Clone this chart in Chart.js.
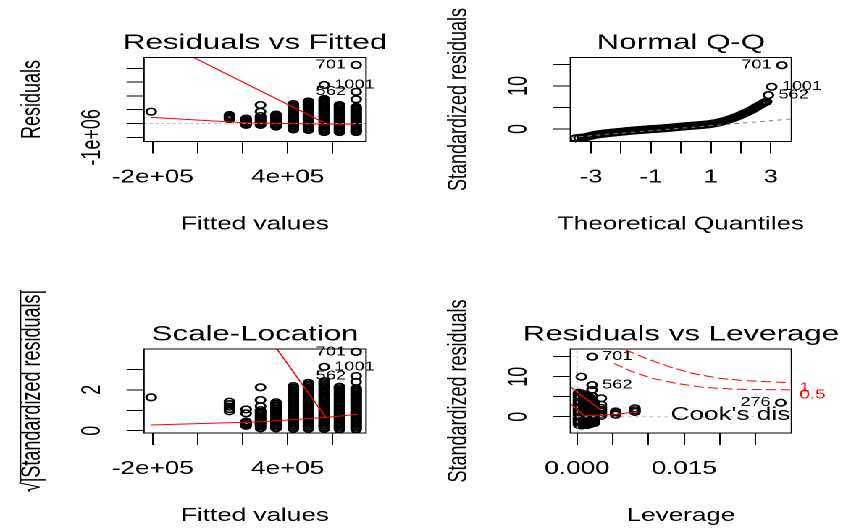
<!DOCTYPE html>
<html>
<head>
<meta charset="utf-8">
<title>lm diagnostics</title>
<script src="https://cdn.jsdelivr.net/npm/chart.js@4.4.1/dist/chart.umd.min.js"></script>
<style>
  html, body { margin: 0; padding: 0; background: #fff; overflow: hidden; }
  /* the reference is an R device stretched sideways, so the sheet is drawn narrow and widened */
  #sheet { position: absolute; left: 0; top: 0; width: 582px; height: 529px;
           transform-origin: 0 0; transform: scaleX(1.4485); }
  #sheet canvas { position: absolute; }
</style>
</head>
<body>
<div id="sheet">
  <canvas id="rvf" width="291" height="264" style="left:0;top:0"></canvas>
  <canvas id="qq" width="291" height="264" style="left:291px;top:0"></canvas>
  <canvas id="sl" width="291" height="265" style="left:0;top:264px"></canvas>
  <canvas id="rvl" width="291" height="265" style="left:291px;top:264px"></canvas>
</div>
<script>
// ---- Residuals vs Fitted ----
const fittedLevels = [-2.07e5, 1.41e5, 2.15e5, 2.79e5, 3.48e5, 4.25e5, 4.92e5, 5.62e5, 6.30e5, 7.04e5];
const residualsByLevel = [
  [0.86e6],
  [0.62e6, 0.52e6, 0.42e6, 0.32e6],
  [0.36e6, 0.28e6, 0.20e6, 0.12e6, 0.04e6, -0.04e6, -0.10e6],
  [1.34e6, 0.86e6, 0.54e6, 0.40e6, 0.30e6, 0.20e6, 0.10e6, 0.00e6, -0.10e6],
  [0.65e6, 0.55e6, 0.45e6, 0.35e6, 0.25e6, 0.15e6, 0.05e6, -0.05e6, -0.15e6, -0.22e6],
  [1.41e6, 1.30e6, 1.19e6, 1.08e6, 0.97e6, 0.86e6, 0.75e6, 0.64e6, 0.53e6, 0.42e6, 0.31e6, 0.20e6, 0.09e6,
   -0.02e6, -0.13e6, -0.24e6, -0.35e6, -0.43e6],
  [1.60e6, 1.49e6, 1.38e6, 1.27e6, 1.16e6, 1.05e6, 0.94e6, 0.83e6, 0.72e6, 0.61e6, 0.50e6, 0.39e6, 0.28e6,
   0.17e6, 0.06e6, -0.05e6, -0.16e6, -0.27e6, -0.38e6, -0.47e6],
  [2.79e6, 1.78e6, 1.67e6, 1.56e6, 1.45e6, 1.34e6, 1.23e6, 1.12e6, 1.01e6, 0.90e6, 0.79e6, 0.68e6, 0.57e6,
   0.46e6, 0.35e6, 0.24e6, 0.13e6, 0.02e6, -0.09e6, -0.20e6, -0.31e6, -0.42e6, -0.53e6, -0.62e6],
  [1.34e6, 1.23e6, 1.12e6, 1.01e6, 0.90e6, 0.79e6, 0.68e6, 0.57e6, 0.46e6, 0.35e6, 0.24e6, 0.13e6, 0.02e6,
   -0.09e6, -0.20e6, -0.31e6, -0.42e6, -0.53e6, -0.62e6],
  [4.24e6, 2.30e6, 1.75e6, 1.20e6, 1.09e6, 0.98e6, 0.87e6, 0.76e6, 0.65e6, 0.54e6, 0.43e6, 0.32e6, 0.21e6,
   0.10e6, -0.01e6, -0.12e6, -0.23e6, -0.34e6, -0.45e6, -0.56e6, -0.62e6]
];
const rvfSmoothX = [-2.07e5, 2.07e5, 5.62e5, 7.04e5];
const rvfSmoothY = [0.45e6, 0.06e6, -0.04e6, -0.04e6];
const rvfSpurX = [-2.15e5, 5.62e5];
const rvfSpurY = [6.38e6, 0.06e6];
const rvfIds = ['701', '1001', '562'];
const rvfIdX = [7.04e5, 5.62e5, 7.04e5];
const rvfIdY = [4.24e6, 2.79e6, 2.30e6];
const fittedRange = [-2.39e5, 7.48e5];
const fittedTicks = [-2e5, 0, 2e5, 4e5, 6e5];
const fittedTickLabels = ['-2e+05', '', '', '4e+05', ''];
const residRange = [-1.30e6, 4.78e6];
const residTicks = [-1e6, 0, 1e6, 2e6, 3e6, 4e6];
const residTickLabels = ['-1e+06', '', '', '', '', ''];

// ---- Normal Q-Q ----
const qqTheoretical = [
  -3.52, -3.40, -3.30, -3.20, -3.12, -3.05, -2.98, -2.91, -2.84, -2.77,
  -2.70, -2.63, -2.56, -2.49, -2.42, -2.35, -2.28, -2.21, -2.14, -2.07,
  -2.00, -1.93, -1.86, -1.79, -1.72, -1.65, -1.58, -1.51, -1.44, -1.37,
  -1.30, -1.23, -1.16, -1.09, -1.02, -0.95, -0.88, -0.81, -0.74, -0.67,
  -0.60, -0.53, -0.46, -0.39, -0.32, -0.25, -0.18, -0.11, -0.04, 0.03,
  0.10, 0.17, 0.24, 0.31, 0.38, 0.45, 0.52, 0.59, 0.66, 0.73,
  0.80, 0.87, 0.94, 1.01, 1.08, 1.15, 1.22, 1.29, 1.36, 1.43,
  1.50, 1.57, 1.64, 1.71, 1.78, 1.85, 1.92, 1.99, 2.06, 2.13,
  2.20, 2.27, 2.34, 2.41, 2.48, 2.55, 2.62, 2.69, 2.75, 2.81,
  2.86, 2.92, 3.03, 3.37];
const qqStdResid = [
  -2.15, -2.08, -2.00, -1.92, -1.80, -1.68, -1.55, -1.42, -1.33, -1.26,
  -1.19, -1.13, -1.07, -1.01, -0.95, -0.89, -0.84, -0.79, -0.74, -0.69,
  -0.64, -0.59, -0.54, -0.49, -0.44, -0.40, -0.36, -0.32, -0.28, -0.24,
  -0.20, -0.16, -0.12, -0.08, -0.05, -0.02, 0.01, 0.04, 0.07, 0.11,
  0.15, 0.19, 0.23, 0.27, 0.31, 0.36, 0.41, 0.46, 0.51, 0.56,
  0.60, 0.64, 0.68, 0.72, 0.76, 0.80, 0.84, 0.88, 0.92, 0.96,
  1.01, 1.06, 1.12, 1.19, 1.27, 1.36, 1.46, 1.57, 1.69, 1.82,
  1.96, 2.11, 2.27, 2.44, 2.62, 2.81, 3.01, 3.22, 3.44, 3.66,
  3.89, 4.12, 4.36, 4.60, 4.95, 5.20, 5.48, 5.75, 6.00, 6.20,
  6.35, 7.87, 9.80, 14.80];
const qqLineX = [-3.69, 3.68];
const qqLineY = [-1.95, 2.32];
const qqIds = ['701', '1001', '562'];
const qqIdX = [3.37, 3.03, 2.92];
const qqIdY = [14.80, 9.80, 7.87];
const qqRange = [-3.69, 3.69];
const qqTicks = [-3, -2, -1, 0, 1, 2, 3];
const qqTickLabels = ['-3', '', '-1', '', '1', '', '3'];
const stdRange = [-2.9, 16.6];
const stdTicks = [0, 5, 10, 15];
const stdTickLabels = ['0', '', '10', ''];

// ---- Scale-Location ----
const sqrtAbsByLevel = [
  [1.63],
  [1.42, 1.30, 1.18, 1.06, 0.95],
  [1.04, 0.85, 0.45, 0.38, 0.31, 0.24],
  [2.12, 1.50, 1.20, 1.00, 0.92, 0.84, 0.76, 0.68, 0.60, 0.52, 0.44, 0.36, 0.28, 0.20, 0.12],
  [1.39, 1.31, 1.23, 1.15, 1.07, 0.99, 0.91, 0.83, 0.75, 0.67, 0.59, 0.51, 0.43, 0.35, 0.27, 0.19, 0.12],
  [2.18, 2.10, 2.02, 1.94, 1.86, 1.78, 1.70, 1.62, 1.54, 1.46, 1.38, 1.30, 1.22, 1.14, 1.06, 0.98, 0.90,
   0.82, 0.74, 0.66, 0.58, 0.50, 0.42, 0.34, 0.26, 0.18, 0.10],
  [2.34, 2.26, 2.18, 2.10, 2.02, 1.94, 1.86, 1.78, 1.70, 1.62, 1.54, 1.46, 1.38, 1.30, 1.22, 1.14, 1.06,
   0.98, 0.90, 0.82, 0.74, 0.66, 0.58, 0.50, 0.42, 0.34, 0.26, 0.18, 0.10],
  [3.12, 2.42, 2.34, 2.26, 2.18, 2.10, 2.02, 1.94, 1.86, 1.78, 1.70, 1.62, 1.54, 1.46, 1.38, 1.30, 1.22,
   1.14, 1.06, 0.98, 0.90, 0.82, 0.74, 0.66, 0.58, 0.50, 0.42, 0.34, 0.26, 0.18, 0.10],
  [2.15, 2.07, 1.99, 1.91, 1.83, 1.75, 1.67, 1.59, 1.51, 1.43, 1.35, 1.27, 1.19, 1.11, 1.03, 0.95, 0.87,
   0.79, 0.71, 0.63, 0.55, 0.47, 0.39, 0.31, 0.23, 0.15, 0.07],
  [3.85, 2.67, 2.39, 2.07, 1.99, 1.91, 1.83, 1.75, 1.67, 1.59, 1.51, 1.43, 1.35, 1.27, 1.19, 1.11, 1.03,
   0.95, 0.87, 0.79, 0.71, 0.63, 0.55, 0.47, 0.39, 0.31, 0.23, 0.15, 0.07]
];
const slSmoothX = [-2.07e5, 2.88e5, 5.70e5, 7.10e5];
const slSmoothY = [0.28, 0.44, 0.65, 0.80];
const slSpurX = [3.18e5, 5.70e5];
const slSpurY = [4.51, 0.65];
const slIds = ['701', '1001', '562'];
const slIdX = [7.04e5, 5.62e5, 7.04e5];
const slIdY = [3.85, 3.12, 2.67];
const sqrtRange = [-0.11, 3.99];
const sqrtTicks = [0, 1, 2, 3];
const sqrtTickLabels = ['0', '', '2', ''];

// ---- Residuals vs Leverage ----
const leverageLevels = [0.0002, 0.0006, 0.0010, 0.0014, 0.0018, 0.0021, 0.0024, 0.0034, 0.0054, 0.0081, 0.0285];
const stdResidByLeverage = [
  [6.0, 5.6, 5.2, 4.8, 4.4, 4.0, 3.6, 3.2, 2.8, 2.4, 2.0, 1.6, 1.2, 0.8, 0.4, 0.0, -0.4, -0.8, -1.2, -1.6, -2.0],
  [10.0, 5.8, 5.4, 5.0, 4.6, 4.2, 3.8, 3.4, 3.0, 2.6, 2.2, 1.8, 1.4, 1.0, 0.6, 0.2, -0.2, -0.6, -1.0, -1.4, -1.8, -2.2],
  [5.6, 5.2, 4.8, 4.4, 4.0, 3.6, 3.2, 2.8, 2.4, 2.0, 1.6, 1.2, 0.8, 0.4, 0.0, -0.4, -0.8, -1.2, -1.6, -2.0],
  [5.4, 5.0, 4.6, 4.2, 3.8, 3.4, 3.0, 2.6, 2.2, 1.8, 1.4, 1.0, 0.6, 0.2, -0.2, -0.6, -1.0, -1.4, -1.8, -2.1],
  [4.8, 4.4, 4.0, 3.6, 3.2, 2.8, 2.4, 2.0, 1.6, 1.2, 0.8, 0.4, 0.0, -0.4, -0.8, -1.2, -1.6, -1.9],
  [15.0, 7.9, 6.7, 5.2],
  [3.6, 3.2, 2.8, 2.4, 2.0, 1.6, 1.2, 0.8, 0.4, 0.0, -0.4, -0.8, -1.2, -1.6],
  [4.6, 3.0, 2.2, 1.7, 1.2, 0.7, 0.2],
  [1.3, 0.9, 0.5],
  [2.1, 1.6, 1.2],
  [3.5]
];
const rvlSmoothAX = [-0.00187, 0.0033];
const rvlSmoothAY = [8.75, 1.7];
const rvlSmoothBX = [-0.00187, 0.00104, 0.0054, 0.0082];
const rvlSmoothBY = [4.67, 0.25, 0.55, 1.25];
const cookOneX = [0.0068, 0.0096, 0.0129, 0.0162, 0.0199, 0.0237, 0.0298];
const cookOneY = [16.7, 14.6, 12.5, 10.8, 9.6, 9.0, 8.5];
const cookHalfX = [0.0052, 0.0077, 0.0105, 0.0138, 0.0176, 0.0223, 0.0298];
const cookHalfY = [13.3, 11.25, 9.6, 8.35, 7.35, 6.85, 6.7];
const cookLevels = ['1', '0.5'];
const cookLegendAt = [0.0131, 0.43];
const rvlIds = ['701', '562', '276'];
const rvlIdX = [0.0021, 0.0021, 0.0285];
const rvlIdY = [15.0, 7.9, 3.5];
const leverageRange = [-0.00093, 0.03];
const leverageTicks = [0, 0.005, 0.010, 0.015, 0.020, 0.025];
const leverageTickLabels = ['0.000', '', '', '0.015', '', ''];
const rvlStdRange = [-4.08, 16.93];

// ---- drawing ----
const FONT = '"Liberation Sans", Arial, Helvetica, sans-serif';
const AXIS_PX = 18, MAIN_PX = 21.6, ID_PX = 12.5, COOK_PX = 13, TICK_LEN = 12;
Chart.defaults.font.family = FONT;
Chart.defaults.color = '#000';

const measureCtx = document.createElement('canvas').getContext('2d');
function textWidth(s, px) {
  measureCtx.font = px + 'px ' + FONT;
  return measureCtx.measureText(s).width;
}

const pts = (xs, ys) => xs.map((x, i) => ({ x, y: ys[i] }));
const columns = (levels, groups) => levels.flatMap((x, i) => groups[i].map(y => ({ x, y })));

function circles(data) {
  return { data, showLine: false, clip: false, pointStyle: 'circle', pointRadius: 3.3,
    pointBorderWidth: 1.55, pointBorderColor: '#000', pointBackgroundColor: 'rgba(0,0,0,0)' };
}
function path(data, color, dash, width) {
  return { data, showLine: true, pointRadius: 0, borderColor: color, borderWidth: width || 1,
    borderDash: dash || [], fill: false, tension: 0 };
}

const framePlugin = {
  id: 'frame',
  afterDraw(chart) {
    const { ctx, chartArea: a } = chart;
    ctx.save();
    ctx.strokeStyle = '#000';
    ctx.lineWidth = 1;
    ctx.strokeRect(a.left, a.top, a.right - a.left, a.bottom - a.top);
    ctx.restore();
  }
};

// main title and x label sit in R's margins and run wider than the box,
// so they are drawn here instead of through the title plugin (which squeezes them)
function marginText(main, xTitle) {
  return {
    id: 'marginText',
    afterDraw(chart) {
      const { ctx, chartArea: a } = chart;
      const cx = (a.left + a.right) / 2;
      ctx.save();
      ctx.fillStyle = '#000';
      ctx.textAlign = 'center';
      ctx.textBaseline = 'alphabetic';
      ctx.font = MAIN_PX + 'px ' + FONT;
      ctx.fillText(main, cx, a.top - 8.5);
      ctx.font = AXIS_PX + 'px ' + FONT;
      ctx.fillText(xTitle, cx, a.bottom + 88);
      ctx.restore();
    }
  };
}

// point id labels, left or right of their point as R puts them
function idLabels(texts, xs, ys, sides) {
  return {
    id: 'idLabels',
    afterDatasetsDraw(chart) {
      const { ctx, scales: { x, y } } = chart;
      ctx.save();
      ctx.font = ID_PX + 'px ' + FONT;
      ctx.fillStyle = '#000';
      ctx.textBaseline = 'middle';
      texts.forEach((t, i) => {
        const left = sides[i] === 'left';
        ctx.textAlign = left ? 'right' : 'left';
        ctx.fillText(t, x.getPixelForValue(xs[i]) + (left ? -7 : 7), y.getPixelForValue(ys[i]));
      });
      ctx.restore();
    }
  };
}

function diagnosticPanel(canvasId, p) {
  const cv = document.getElementById(canvasId);
  const W = cv.width, H = cv.height, b = p.box;
  const widest = Math.max(...p.yLabels.map(s => textWidth(s, AXIS_PX)));
  const axisFont = { size: AXIS_PX, lineHeight: 1.2 };
  const tickGrid = { drawOnChartArea: false, drawTicks: true, tickLength: TICK_LEN, color: '#000', lineWidth: 1 };
  return new Chart(cv, {
    type: 'scatter',
    data: { datasets: p.datasets },
    options: {
      responsive: false,
      animation: false,
      devicePixelRatio: 2,
      events: [],
      layout: { padding: { left: 0, top: b.t, right: W - b.r, bottom: 0 } },
      plugins: {
        legend: { display: false },
        tooltip: { enabled: false },
        title: { display: false }
      },
      scales: {
        x: {
          type: 'linear', min: p.xRange[0], max: p.xRange[1],
          afterBuildTicks: s => { s.ticks = p.xTicks.map(v => ({ value: v })); },
          afterFit: s => { s.height = H - b.b; },
          grid: tickGrid,
          border: { display: false },
          ticks: { autoSkip: false, maxRotation: 0, minRotation: 0, padding: 13.46, font: axisFont, color: '#000',
            callback: (v, i) => p.xLabels[i] },
          title: { display: false }
        },
        y: {
          type: 'linear', min: p.yRange[0], max: p.yRange[1],
          afterBuildTicks: s => { s.ticks = p.yTicks.map(v => ({ value: v })); },
          afterFit: s => { s.width = b.l; },
          grid: tickGrid,
          border: { display: false },
          ticks: { autoSkip: false, minRotation: 90, maxRotation: 90, crossAlign: 'center',
            padding: 23.24 - widest / 2, font: axisFont, color: '#000',
            callback: (v, i) => p.yLabels[i] },
          title: { display: true, text: p.yTitle, color: '#000', font: axisFont,
            padding: { top: b.l - 87.54, bottom: 0 } }
        }
      }
    },
    plugins: [framePlugin, marginText(p.title, p.xTitle)].concat(p.plugins || [])
  });
}

// 1. Residuals vs Fitted
diagnosticPanel('rvf', {
  box: { l: 99.4, t: 57.5, r: 252.7, b: 141.5 },
  title: 'Residuals vs Fitted', xTitle: 'Fitted values', yTitle: 'Residuals',
  xRange: fittedRange, xTicks: fittedTicks, xLabels: fittedTickLabels,
  yRange: residRange, yTicks: residTicks, yLabels: residTickLabels,
  datasets: [
    path(pts(rvfSmoothX, rvfSmoothY), '#ff0000'),
    path(pts(rvfSpurX, rvfSpurY), '#ff0000'),
    path(pts(fittedRange, [0, 0]), '#bebebe', [2, 2]),
    circles(columns(fittedLevels, residualsByLevel))
  ],
  plugins: [idLabels(rvfIds, rvfIdX, rvfIdY, ['left', 'right', 'left'])]
});

// 2. Normal Q-Q
diagnosticPanel('qq', {
  box: { l: 102.8, t: 57.5, r: 255.4, b: 141.5 },
  title: 'Normal Q-Q', xTitle: 'Theoretical Quantiles', yTitle: 'Standardized residuals',
  xRange: qqRange, xTicks: qqTicks, xLabels: qqTickLabels,
  yRange: stdRange, yTicks: stdTicks, yLabels: stdTickLabels,
  datasets: [
    path(pts(qqLineX, qqLineY), '#808080', [3, 3]),
    circles(pts(qqTheoretical, qqStdResid))
  ],
  plugins: [idLabels(qqIds, qqIdX, qqIdY, ['left', 'right', 'right'])]
});

// 3. Scale-Location
const SL_YTITLE = '\u221A|Standardized residuals|';
const radicalBar = {
  id: 'radicalBar',
  afterDraw(chart) {
    const { ctx, chartArea: a } = chart;
    const full = textWidth(SL_YTITLE, AXIS_PX), root = textWidth('\u221A', AXIS_PX);
    const mid = (a.top + a.bottom) / 2;
    const x = a.left - 76.74 - 8.5;
    ctx.save();
    ctx.strokeStyle = '#000';
    ctx.lineWidth = 1;
    ctx.beginPath();
    ctx.moveTo(x, mid + full / 2 - root);
    ctx.lineTo(x, mid - full / 2);
    ctx.stroke();
    ctx.restore();
  }
};
diagnosticPanel('sl', {
  box: { l: 99.4, t: 85, r: 252.7, b: 169 },
  title: 'Scale-Location', xTitle: 'Fitted values', yTitle: SL_YTITLE,
  xRange: fittedRange, xTicks: fittedTicks, xLabels: fittedTickLabels,
  yRange: sqrtRange, yTicks: sqrtTicks, yLabels: sqrtTickLabels,
  datasets: [
    path(pts(slSmoothX, slSmoothY), '#ff0000'),
    path(pts(slSpurX, slSpurY), '#ff0000'),
    circles(columns(fittedLevels, sqrtAbsByLevel))
  ],
  plugins: [radicalBar, idLabels(slIds, slIdX, slIdY, ['left', 'right', 'left'])]
});

// 4. Residuals vs Leverage
const cookNotes = {
  id: 'cookNotes',
  afterDatasetsDraw(chart) {
    const { ctx, chartArea: a, scales: { x, y } } = chart;
    const ends = [cookOneY[cookOneY.length - 1], cookHalfY[cookHalfY.length - 1]];
    ctx.save();
    ctx.fillStyle = '#ff0000';
    ctx.font = COOK_PX + 'px ' + FONT;
    ctx.textAlign = 'left';
    ctx.textBaseline = 'middle';
    cookLevels.forEach((t, i) => ctx.fillText(t, a.right + 5.5, y.getPixelForValue(ends[i]) + 5));
    ctx.beginPath();
    ctx.rect(a.left, a.top, a.right - a.left, a.bottom - a.top);
    ctx.clip();
    ctx.fillStyle = '#000';
    ctx.font = AXIS_PX + 'px ' + FONT;
    ctx.fillText("Cook's distance", x.getPixelForValue(cookLegendAt[0]), y.getPixelForValue(cookLegendAt[1]));
    ctx.restore();
  }
};
diagnosticPanel('rvl', {
  box: { l: 102.8, t: 85, r: 255.4, b: 169 },
  title: 'Residuals vs Leverage', xTitle: 'Leverage', yTitle: 'Standardized residuals',
  xRange: leverageRange, xTicks: leverageTicks, xLabels: leverageTickLabels,
  yRange: rvlStdRange, yTicks: stdTicks, yLabels: stdTickLabels,
  datasets: [
    path(pts(rvlSmoothAX, rvlSmoothAY), '#ff0000'),
    path(pts(rvlSmoothBX, rvlSmoothBY), '#ff0000'),
    path(pts(cookOneX, cookOneY), '#ff0000', [7, 3]),
    path(pts(cookHalfX, cookHalfY), '#ff0000', [7, 3]),
    path(pts(leverageRange, [0, 0]), '#bebebe', [2, 3]),
    path(pts([0, 0], rvlStdRange), '#bebebe', [2, 3]),
    circles(columns(leverageLevels, stdResidByLeverage))
  ],
  plugins: [cookNotes, idLabels(rvlIds, rvlIdX, rvlIdY, ['right', 'right', 'left'])]
});
</script>
</body>
</html>
